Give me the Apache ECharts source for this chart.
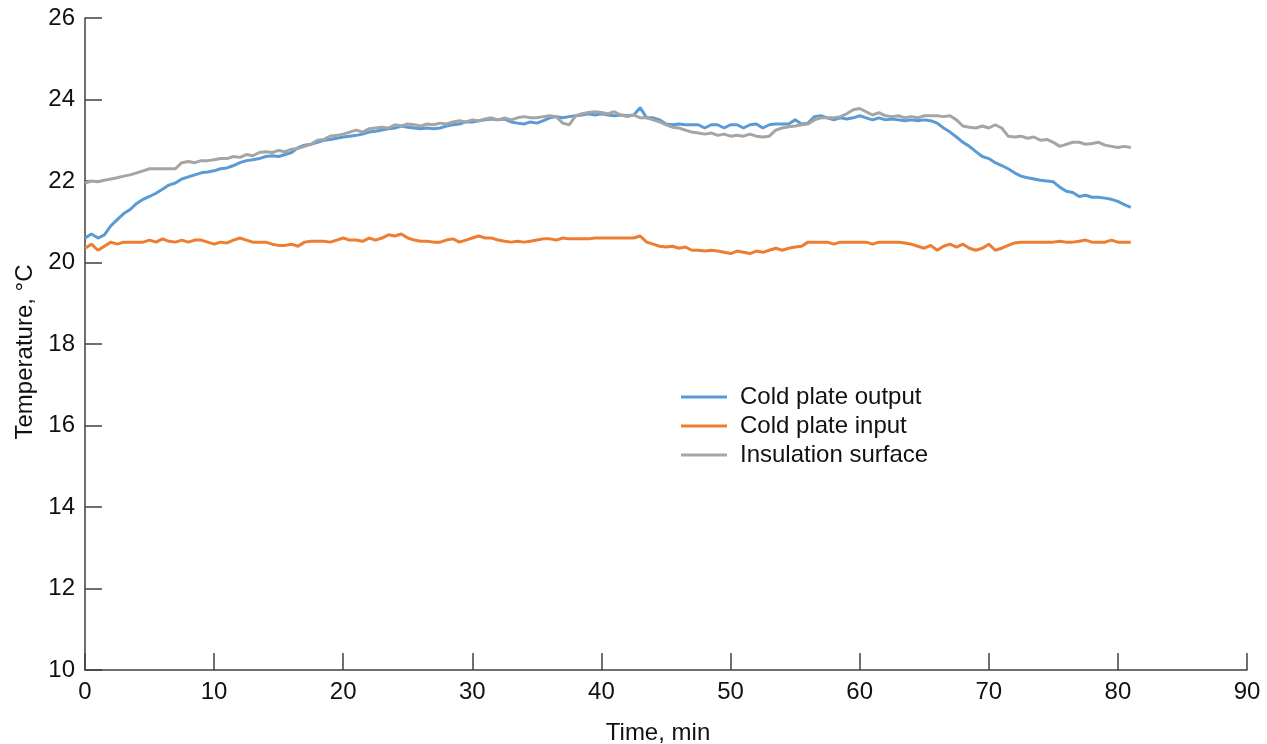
<!DOCTYPE html>
<html>
<head>
<meta charset="utf-8">
<script src="https://cdn.jsdelivr.net/npm/echarts@6/dist/echarts.min.js"></script>
<style>
  html, body { margin: 0; padding: 0; background: #ffffff; }
  #chart { width: 1267px; height: 744px; }
</style>
</head>
<body>
<div id="chart"></div>
<script>
// Temperatures logged every half minute, starting at t = 0 min.
const SAMPLE_INTERVAL_MIN = 0.5;

const seriesNames = ['Cold plate output', 'Cold plate input', 'Insulation surface'];

// Cold plate output, °C (one row = 5 min)
const coldPlateOutput = [
  20.60, 20.70, 20.60, 20.68, 20.90, 21.05, 21.20, 21.30, 21.45, 21.55,
  21.62, 21.70, 21.80, 21.90, 21.95, 22.05, 22.10, 22.15, 22.20, 22.22,
  22.25, 22.30, 22.32, 22.38, 22.45, 22.50, 22.52, 22.55, 22.60, 22.62,
  22.60, 22.65, 22.70, 22.82, 22.88, 22.90, 22.95, 23.00, 23.02, 23.05,
  23.08, 23.10, 23.12, 23.15, 23.20, 23.22, 23.25, 23.28, 23.30, 23.35,
  23.32, 23.30, 23.28, 23.30, 23.28, 23.30, 23.35, 23.38, 23.40, 23.45,
  23.45, 23.48, 23.50, 23.52, 23.50, 23.52, 23.45, 23.42, 23.40, 23.45,
  23.42, 23.48, 23.55, 23.58, 23.55, 23.58, 23.60, 23.62, 23.65, 23.62,
  23.65, 23.62, 23.60, 23.62, 23.60, 23.62, 23.80, 23.55, 23.55, 23.50,
  23.40, 23.38, 23.40, 23.38, 23.38, 23.38, 23.30, 23.38, 23.38, 23.30,
  23.38, 23.38, 23.30, 23.38, 23.40, 23.30, 23.38, 23.40, 23.40, 23.40,
  23.50, 23.40, 23.42, 23.58, 23.60, 23.55, 23.50, 23.55, 23.52, 23.55,
  23.60, 23.55, 23.50, 23.55, 23.50, 23.52, 23.50, 23.48, 23.50, 23.48,
  23.50, 23.48, 23.42, 23.30, 23.20, 23.08, 22.95, 22.85, 22.72, 22.60,
  22.55, 22.45, 22.38, 22.30, 22.20, 22.12, 22.08, 22.05, 22.02, 22.00,
  21.98, 21.85, 21.75, 21.72, 21.62, 21.65, 21.60, 21.60, 21.58, 21.55,
  21.50, 21.42, 21.35
];

// Cold plate input, °C
const coldPlateInput = [
  20.35, 20.45, 20.30, 20.40, 20.50, 20.45, 20.50, 20.50, 20.50, 20.50,
  20.55, 20.50, 20.58, 20.52, 20.50, 20.55, 20.50, 20.55, 20.55, 20.50,
  20.45, 20.50, 20.48, 20.55, 20.60, 20.55, 20.50, 20.50, 20.50, 20.45,
  20.42, 20.42, 20.45, 20.40, 20.50, 20.52, 20.52, 20.52, 20.50, 20.55,
  20.60, 20.55, 20.55, 20.52, 20.60, 20.55, 20.60, 20.68, 20.65, 20.70,
  20.60, 20.55, 20.52, 20.52, 20.50, 20.50, 20.55, 20.58, 20.50, 20.55,
  20.60, 20.65, 20.60, 20.60, 20.55, 20.52, 20.50, 20.52, 20.50, 20.52,
  20.55, 20.58, 20.58, 20.55, 20.60, 20.58, 20.58, 20.58, 20.58, 20.60,
  20.60, 20.60, 20.60, 20.60, 20.60, 20.60, 20.65, 20.50, 20.45, 20.40,
  20.38, 20.40, 20.35, 20.38, 20.30, 20.30, 20.28, 20.30, 20.28, 20.25,
  20.22, 20.28, 20.25, 20.22, 20.28, 20.25, 20.30, 20.35, 20.30, 20.35,
  20.38, 20.40, 20.50, 20.50, 20.50, 20.50, 20.45, 20.50, 20.50, 20.50,
  20.50, 20.50, 20.45, 20.50, 20.50, 20.50, 20.50, 20.48, 20.45, 20.40,
  20.35, 20.42, 20.30, 20.40, 20.45, 20.38, 20.45, 20.35, 20.30, 20.35,
  20.45, 20.30, 20.35, 20.42, 20.48, 20.50, 20.50, 20.50, 20.50, 20.50,
  20.50, 20.52, 20.50, 20.50, 20.52, 20.55, 20.50, 20.50, 20.50, 20.55,
  20.50, 20.50, 20.50
];

// Insulation surface, °C
const insulationSurface = [
  21.95, 22.00, 21.98, 22.02, 22.05, 22.08, 22.12, 22.15, 22.20, 22.25,
  22.30, 22.30, 22.30, 22.30, 22.30, 22.45, 22.48, 22.45, 22.50, 22.50,
  22.52, 22.55, 22.55, 22.60, 22.58, 22.65, 22.62, 22.70, 22.72, 22.70,
  22.75, 22.72, 22.78, 22.80, 22.85, 22.90, 23.00, 23.02, 23.10, 23.12,
  23.15, 23.20, 23.25, 23.20, 23.28, 23.30, 23.32, 23.30, 23.38, 23.35,
  23.40, 23.38, 23.35, 23.40, 23.38, 23.42, 23.40, 23.45, 23.48, 23.45,
  23.50, 23.48, 23.52, 23.55, 23.50, 23.55, 23.50, 23.55, 23.58, 23.55,
  23.55, 23.58, 23.60, 23.58, 23.42, 23.38, 23.60, 23.65, 23.68, 23.70,
  23.68, 23.65, 23.70, 23.62, 23.58, 23.62, 23.55, 23.55, 23.50, 23.45,
  23.38, 23.32, 23.30, 23.25, 23.20, 23.18, 23.15, 23.18, 23.12, 23.15,
  23.10, 23.12, 23.10, 23.15, 23.10, 23.08, 23.10, 23.25, 23.30, 23.33,
  23.35, 23.38, 23.40, 23.50, 23.55, 23.55, 23.55, 23.58, 23.65, 23.75,
  23.78, 23.70, 23.62, 23.68, 23.60, 23.58, 23.60, 23.55, 23.58, 23.55,
  23.60, 23.60, 23.60, 23.58, 23.60, 23.50, 23.35, 23.32, 23.30, 23.35,
  23.30, 23.38, 23.30, 23.10, 23.08, 23.10, 23.05, 23.08, 23.00, 23.02,
  22.95, 22.85, 22.90, 22.95, 22.95, 22.90, 22.92, 22.95, 22.88, 22.85,
  22.82, 22.85, 22.82
];

const seriesColors = ['#5B9BD5', '#ED7D31', '#A5A5A5'];
const seriesValues = [coldPlateOutput, coldPlateInput, insulationSurface];

// Pair each reading with its sample time in minutes.
function withTime(values) {
  return values.map((v, i) => [i * SAMPLE_INTERVAL_MIN, v]);
}

const FONT = '"Liberation Sans", Arial, sans-serif';
const TEXT_COLOR = '#111111';
const axisLine = { show: true, lineStyle: { color: '#404040', width: 1.5 } };
const axisTick = { show: true, inside: true, length: 17, lineStyle: { color: '#404040', width: 1.5 } };

const chart = echarts.init(document.getElementById('chart'), null, { renderer: 'canvas' });

chart.setOption({
  animation: false,
  backgroundColor: '#ffffff',
  grid: {
    left: 85, right: 20, top: 18, bottom: 74,
    containLabel: false,
    outerBoundsMode: 'none'
  },
  legend: {
    orient: 'vertical',
    left: 676,
    top: 380,
    itemWidth: 46,
    itemHeight: 3,
    itemGap: 5,
    icon: 'rect',
    data: seriesNames,
    textStyle: { fontFamily: FONT, fontSize: 24, color: TEXT_COLOR, padding: [0, 0, 0, 8] }
  },
  xAxis: {
    type: 'value',
    min: 0,
    max: 90,
    interval: 10,
    name: 'Time, min',
    nameLocation: 'middle',
    nameGap: 51,
    nameTextStyle: { fontFamily: FONT, fontSize: 24, color: TEXT_COLOR, padding: [0, 16, 0, 0] },
    axisLine: axisLine,
    axisTick: axisTick,
    axisLabel: { fontFamily: FONT, fontSize: 24, color: TEXT_COLOR, margin: 10 },
    splitLine: { show: false }
  },
  yAxis: {
    type: 'value',
    min: 10,
    max: 26,
    interval: 2,
    name: 'Temperature, °C',
    nameLocation: 'middle',
    nameGap: 48,
    nameRotate: 90,
    nameTextStyle: { fontFamily: FONT, fontSize: 24, color: TEXT_COLOR, padding: [0, 16, 0, 0] },
    axisLine: axisLine,
    axisTick: axisTick,
    axisLabel: { fontFamily: FONT, fontSize: 24, color: TEXT_COLOR, margin: 10 },
    splitLine: { show: false }
  },
  series: seriesNames.map((name, k) => ({
    name: name,
    type: 'line',
    data: withTime(seriesValues[k]),
    showSymbol: false,
    symbol: 'none',
    color: seriesColors[k],
    lineStyle: { color: seriesColors[k], width: 3 },
    z: k === 1 ? 2 : (k === 0 ? 3 : 4)
  }))
});
</script>
</body>
</html>
